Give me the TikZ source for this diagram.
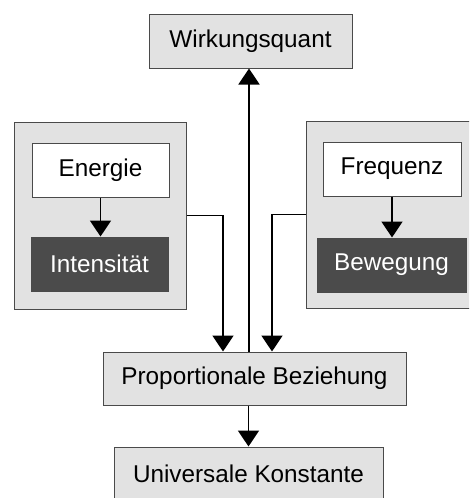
\documentclass[tikz,border=0pt]{standalone}
\usepackage{fontspec}
\setmainfont{Liberation Sans}
\definecolor{pqLine}{HTML}{4A4A4A}
\definecolor{pqLight}{HTML}{E2E2E2}
\definecolor{pqDark}{HTML}{4B4B4B}
\usetikzlibrary{calc,positioning,arrows.meta}
\begin{document}
\begin{tikzpicture}[x=1pt, y=-1pt,
  box/.style={draw=pqLine, line width=1pt, fill=pqLight, text=black,
    minimum height=54pt, inner sep=0pt, font=\fontsize{24.3}{28}\selectfont},
  whitebox/.style={box, fill=white},
  darkbox/.style={box, fill=pqDark, text=white},
  group/.style={draw=pqLine, line width=1pt, fill=pqLight, minimum height=187pt},
  arr/.style={-{Triangle[width=21pt,length=16pt]}, line width=1.6pt, color=black}
]
  \useasboundingbox (0,0) rectangle (469,498);
  \clip (0,0) rectangle (469,498);

  \node[box, minimum width=203pt] (wq) at (250.5,41) {Wirkungsquant};

  \node[group, minimum width=172pt] (leftgrp) at (100,215.5) {};
  \node[whitebox, minimum width=137pt] (energie) at (100.5,170) {Energie};
  \node[darkbox, minimum width=137pt] (intens) at (99.5,264) {Intensität};

  \node[group, minimum width=174pt] (rightgrp) at (393,214.5) {};
  \node[whitebox, minimum width=138pt] (frequenz) at (392,169) {Frequenz};
  \node[darkbox, minimum width=149pt] (beweg) at (391.5,265) {Bewegung};

  \node[box, minimum width=303pt, minimum height=53pt] (prop) at (254.5,378.5) {Proportionale Beziehung};
  \node[box, minimum width=269pt] (univ) at (248.5,474) {Universale Konstante};

  \draw[arr] (energie.south) -- (energie.south |- intens.north);
  \draw[arr] (frequenz.south) -- (frequenz.south |- beweg.north);
  \draw[arr] ([xshift=-1.5pt]wq.south |- prop.north) -- ([xshift=-1.5pt]wq.south);
  \draw[arr] (leftgrp.east) -| ([xshift=-31.5pt]prop.north);
  \draw[arr] (rightgrp.west) -| ([xshift=17.5pt]prop.north);
  \draw[arr] (univ.north |- prop.south) -- (univ.north);
\end{tikzpicture}
\end{document}
